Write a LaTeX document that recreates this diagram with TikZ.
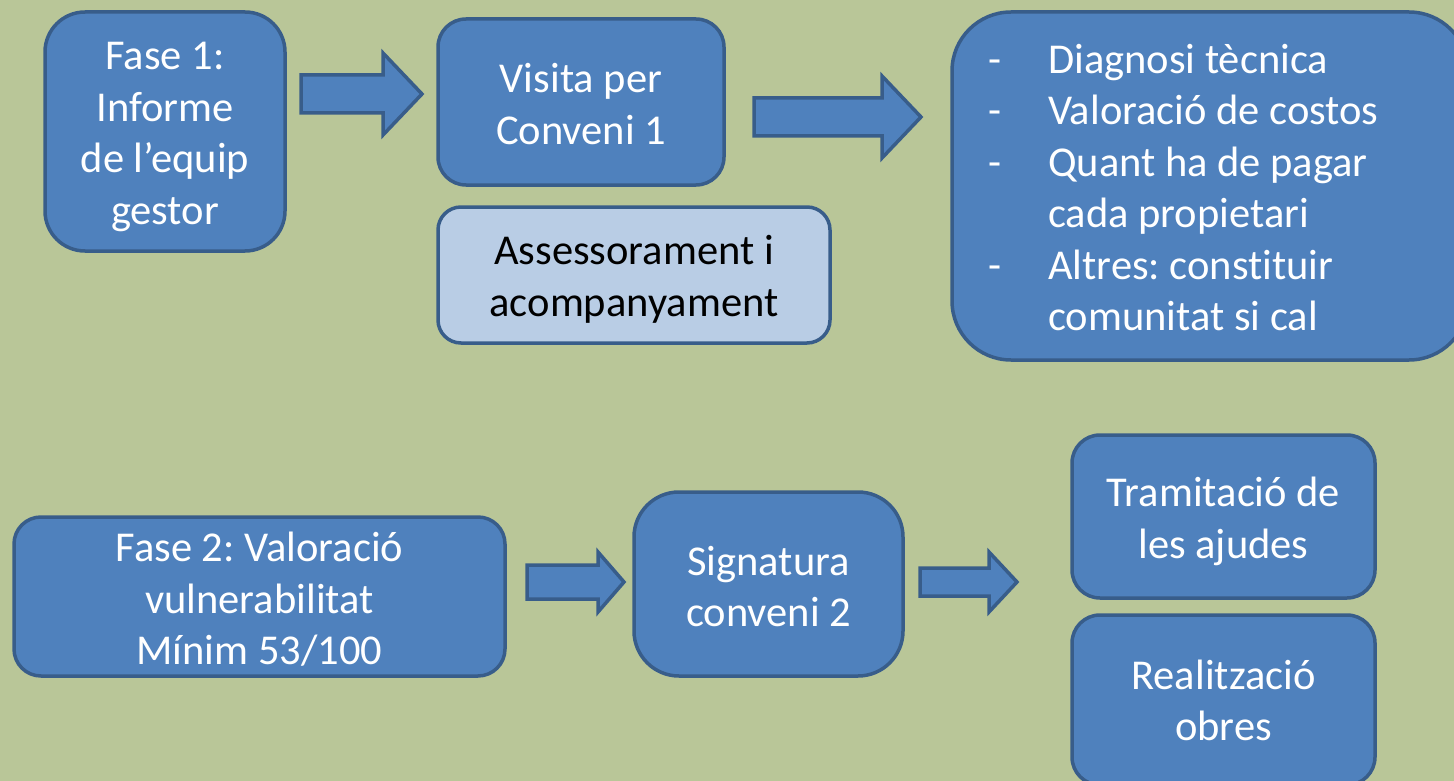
\documentclass[tikz,border=0pt]{standalone}
\usepackage{fontspec}
\setmainfont{Carlito}[Ligatures=NoCommon]
\frenchspacing
\definecolor{bg}{RGB}{185,198,152}
\definecolor{fillb}{RGB}{79,129,189}
\definecolor{edgeb}{RGB}{56,93,138}
\definecolor{lightb}{RGB}{185,205,229}
\tikzset{
  box/.style={draw=edgeb, fill=fillb, line width=3.5pt, inner sep=0pt},
  lightbox/.style={box, fill=lightb},
  boxtext/.style={text=white, align=center, inner sep=0pt, font=\fontsize{42.5}{51.5}\selectfont\frenchspacing},
  darktext/.style={boxtext, text=black},
  barrow/.style={draw=edgeb, fill=fillb, line width=3.5pt, line join=miter},
}
% tail x, head base x, tip x, mid y, half body, half head
\newcommand{\blockarr}[6]{%
  \draw[barrow] (#1,#4-#5) -- (#2,#4-#5) -- (#2,#4-#6) -- (#3,#4) -- (#2,#4+#6)
    -- (#2,#4+#5) -- (#1,#4+#5) -- cycle;}
\begin{document}
\begin{tikzpicture}[x=1pt,y=-1pt]
\useasboundingbox (0,0) rectangle (1454,781);
\clip (0,0) rectangle (1454,781);
\fill[bg] (0,0) rectangle (1454,781);

\node[box, rounded corners=40pt, minimum width=240pt, minimum height=239pt,
  label={[boxtext,yshift=-5.5pt]center:{Fase 1:\\Informe\\de l’equip\\gestor}}] (fase1) at (165,131.5) {};
\node[box, rounded corners=28pt, minimum width=286pt, minimum height=166pt,
  label={[boxtext,yshift=-2pt]center:{Visita per\\Conveni 1}}] (visita) at (581,102) {};
\node[lightbox, rounded corners=23pt, minimum width=392pt, minimum height=136pt,
  label={[darktext,yshift=-4.5pt]center:{Assessorament i\\acompanyament}}] (assess) at (634,275) {};
\node[box, rounded corners=59pt, minimum width=516pt, minimum height=348pt] (diag) at (1210,186) {};
\node[anchor=west, text=white, inner sep=0pt, font=\fontsize{42.5}{51.5}\selectfont\frenchspacing] (llista) at (988,191.5)
  {\begin{tabular}{@{}p{60pt}@{}l@{}}
   - & Diagnosi tècnica\\
   - & Valoració de costos\\
   - & Quant ha de pagar\\
     & cada propietari\\
   - & Altres: constituir\\
     & comunitat si cal
   \end{tabular}};

\node[box, rounded corners=27pt, minimum width=491pt, minimum height=159pt,
  label={[boxtext,yshift=-3pt]center:{Fase 2: Valoració\\vulnerabilitat\\Mínim 53/100}}] (fase2) at (259.5,596.5) {};
\node[box, rounded corners=45pt, minimum width=269pt, minimum height=184pt,
  label={[boxtext,yshift=-2.5pt]center:{Signatura\\conveni 2}}] (sign) at (768.5,584) {};
\node[box, rounded corners=28pt, minimum width=303pt, minimum height=163pt,
  label={[boxtext,yshift=-5pt]center:{Tramitació de\\les ajudes}}] (tram) at (1223.5,516.5) {};
\node[box, rounded corners=28pt, minimum width=303pt, minimum height=170pt,
  label={[boxtext,yshift=-0.5pt]center:{Realització\\obres}}] (real) at (1223.5,700) {};

\blockarr{301}{383}{422}{94}{19}{41}
\blockarr{754}{882}{921}{117}{19}{41}
\blockarr{527}{598}{624}{582}{17}{30}
\blockarr{920}{989}{1017}{582}{14}{30}
\end{tikzpicture}
\end{document}
